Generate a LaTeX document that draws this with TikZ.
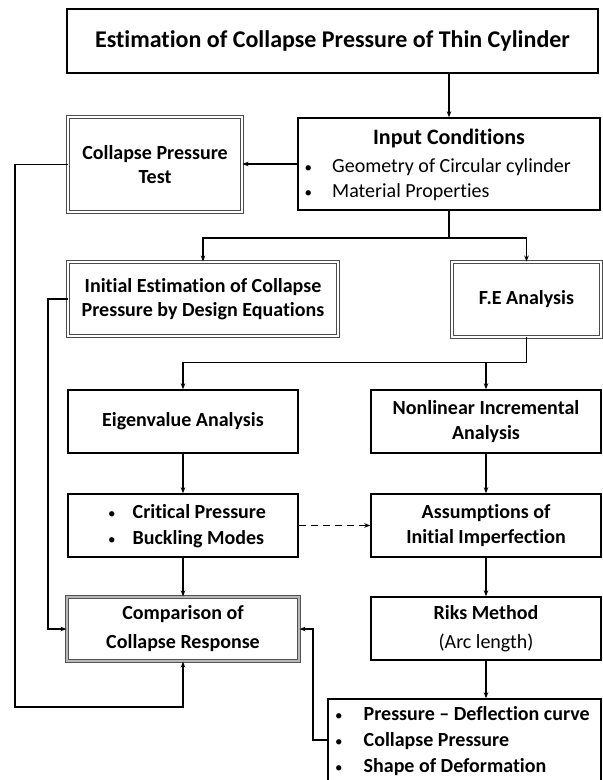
\documentclass[tikz,border=0pt]{standalone}
\usepackage{fontspec}
\setmainfont{Carlito}[Ligatures=NoCommon]
\usetikzlibrary{arrows.meta}
\newcommand{\smbul}{{\fontsize{15}{15}\selectfont\mdseries •}}
\begin{document}
\begin{tikzpicture}[x=1pt,y=-1pt,
  box/.style={draw=black, line width=1.4pt, inner sep=0pt, align=center,
    font=\fontsize{20}{24.4}\selectfont\bfseries},
  dbox/.style={box, draw=gray!60!black, double=white, line width=0.9pt, double distance=1.3pt},
  cbox/.style={box, draw=gray!65!black, double=gray!55, line width=1.1pt, double distance=1.6pt},
  conn/.style={line width=1.6pt, -{Stealth[length=6pt,width=4.5pt]}},
  plainline/.style={line width=1.6pt},
  listtxt/.style={inner sep=0pt, anchor=west, align=left},
]
\useasboundingbox (0,0) rectangle (603,780);
\clip (0,0) rectangle (603,780);

% boxes
\node[box, minimum width=531pt, minimum height=64pt, line width=2.6pt,
  font=\fontsize{24}{29}\selectfont\bfseries] (title) at (332.5,41)
  {Estimation of Collapse Pressure of Thin Cylinder};

\node[dbox, minimum width=174pt, minimum height=95pt] (test) at (155,164.5)
  {Collapse Pressure\\Test};

\node[box, minimum width=302pt, minimum height=92pt] (input) at (449,164) {};
\node[inner sep=0pt, font=\fontsize{22}{26}\selectfont\bfseries] (inhead) at (449,139)
  {Input Conditions};
\node[listtxt, font=\fontsize{20}{25}\selectfont] (inlist) at (304.5,179.5)
  {\begin{tabular}{@{}l@{\hspace{20pt}}l@{}}\smbul&Geometry of Circular cylinder\\\smbul&Material Properties\end{tabular}};

\node[dbox, minimum width=270pt, minimum height=74pt] (init) at (203,299)
  {Initial Estimation of Collapse\\Pressure by Design Equations};

\node[dbox, minimum width=149pt, minimum height=75pt] (fe) at (526.5,299.5)
  {F.E Analysis};

\node[box, minimum width=230pt, minimum height=63pt] (eigen) at (183,421.5)
  {Eigenvalue Analysis};

\node[box, minimum width=230pt, minimum height=63pt] (nonlin) at (486,421.5)
  {Nonlinear Incremental\\Analysis};

\node[box, minimum width=230pt, minimum height=63pt] (crit) at (183,525.5) {};
\node[listtxt, font=\fontsize{20}{26}\selectfont\bfseries] (critlist) at (108,526)
  {\begin{tabular}{@{}l@{\hspace{17pt}}l@{}}\smbul&Critical Pressure\\\smbul&Buckling Modes\end{tabular}};

\node[box, minimum width=230pt, minimum height=63pt] (assum) at (486,525.5)
  {Assumptions of\\Initial Imperfection};

\node[cbox, minimum width=232pt, minimum height=64pt, font=\fontsize{20}{29}\selectfont\bfseries] (comp) at (183,629)
  {Comparison of\\Collapse Response};

\node[box, minimum width=230pt, minimum height=63pt, font=\fontsize{20}{29}\selectfont] (riks) at (486,628.5)
  {\textbf{Riks Method}\\(Arc length)};

\node[box, minimum width=273pt, minimum height=91pt] (res) at (464.5,744.5) {};
\node[listtxt, font=\fontsize{20}{26}\selectfont\bfseries] (reslist) at (335,741)
  {\begin{tabular}{@{}l@{\hspace{21pt}}l@{}}\smbul&Pressure -- Deflection curve\\\smbul&Collapse Pressure\\\smbul&Shape of Deformation\end{tabular}};

% connectors
\draw[conn] (title.south -| input.north) -- (input.north);
\draw[conn] (input.west) -- (input.west -| test.east);
\path (input.south) ++(0,27) coordinate (j1);
\draw[plainline] (input.south) -- (j1);
\draw[conn] (j1) -| (init.north);
\draw[conn] (j1) -| (fe.north);
\path (fe.south) ++(0,25) coordinate (j2);
\draw[plainline] (fe.south) -- (j2);
\draw[conn] (j2) -| (eigen.north);
\draw[conn] (nonlin.north |- j2) -- (nonlin.north);
\draw[conn] (eigen.south) -- (crit.north);
\draw[conn] (nonlin.south) -- (assum.north);
\draw[conn] (crit.south) -- (comp.north);
\draw[conn] (assum.south) -- (riks.north);
\draw[conn] (riks.south) -- (riks.south |- res.north);
\draw[conn, dash pattern=on 7pt off 5pt] (crit.east) -- (crit.east -| assum.west);
\draw[conn] (test.west) -| (15,707) -| (comp.south);
\draw[conn] (init.west) -| (48,629) -- (comp.west);
\draw[conn] ([yshift=4.5pt]res.west) -| (313,629) -- (comp.east);
\end{tikzpicture}
\end{document}
